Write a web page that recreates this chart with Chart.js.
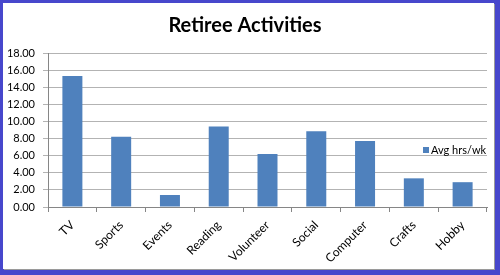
<!DOCTYPE html>
<html>
<head>
<meta charset="utf-8">
<script src="https://cdn.jsdelivr.net/npm/chart.js@4"></script>
<style>
  html, body { margin: 0; padding: 0; }
  body { width: 500px; height: 275px; background: #4747cc; position: relative; overflow: hidden; }
  #frame { position: absolute; left: 3px; top: 3px; width: 491px; height: 266px; background: #fff; box-shadow: 1px 1px 0 #9a9a9a; }
  canvas { display: block; }
</style>
</head>
<body>
<div id="frame"><canvas id="chart" width="491" height="266"></canvas></div>
<script>
const activities = ["TV", "Sports", "Events", "Reading", "Volunteer", "Social", "Computer", "Crafts", "Hobby"];
const avgHours = [15.3, 8.2, 1.4, 9.4, 6.2, 8.85, 7.7, 3.35, 2.9];
const seriesName = "Avg hrs/wk";
const chartTitle = "Retiree Activities";

// legend sits over the right edge of the plot, like the Excel original
const legendInPlot = {
  id: "legendInPlot",
  afterDraw(chart) {
    const ctx = chart.ctx;
    const ds = chart.data.datasets[0];
    const x = chart.chartArea.right - 64;
    const y = 147;
    ctx.save();
    ctx.fillStyle = ds.backgroundColor;
    ctx.fillRect(x, y - 3, 6, 6);
    ctx.fillStyle = "#000";
    ctx.font = "11px Lato";
    ctx.textBaseline = "middle";
    ctx.fillText(ds.label, x + 8, y);
    ctx.restore();
  }
};

new Chart(document.getElementById("chart"), {
  type: "bar",
  data: {
    labels: activities,
    datasets: [{
      label: seriesName,
      data: avgHours,
      backgroundColor: "#4f81bd",
      borderWidth: 0,
      categoryPercentage: 1,
      barPercentage: 0.41
    }]
  },
  options: {
    responsive: false,
    devicePixelRatio: 1,
    animation: false,
    layout: { padding: { left: 0, right: 7, top: 0, bottom: 0 } },
    plugins: {
      legend: { display: false },
      tooltip: { enabled: false },
      title: {
        display: true,
        text: chartTitle,
        color: "#000",
        font: { family: "Lato", size: 20, weight: "bold" },
        padding: { top: 11, bottom: 15 }
      }
    },
    scales: {
      x: {
        afterFit(scale) { scale.height = 62; },
        grid: { offset: true, drawOnChartArea: false, color: "#868686", tickLength: 5 },
        border: { color: "#868686" },
        ticks: {
          color: "#000",
          font: { family: "Lato", size: 12 },
          minRotation: 45,
          maxRotation: 45,
          padding: 6
        }
      },
      y: {
        min: 0,
        max: 18,
        afterFit(scale) { scale.width = 45; },
        grid: { color: "#b3b3b3", tickLength: 5 },
        border: { color: "#868686" },
        ticks: {
          stepSize: 2,
          color: "#000",
          font: { family: "Lato", size: 11 },
          padding: 8,
          callback: v => v.toFixed(2)
        }
      }
    }
  },
  plugins: [legendInPlot]
});
</script>
</body>
</html>
